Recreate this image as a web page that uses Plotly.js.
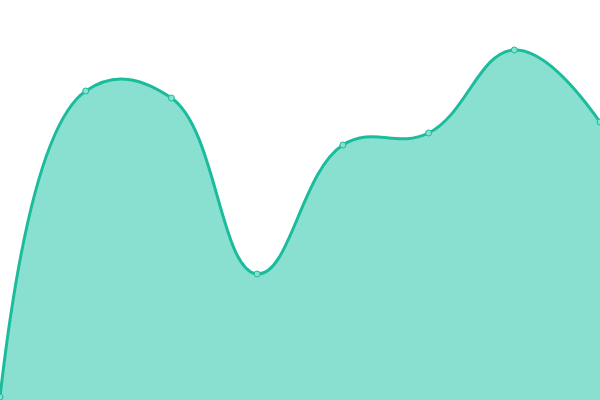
<!DOCTYPE html>
<html>
<head>
<meta charset="utf-8">
<script src="https://cdn.plot.ly/plotly-3.0.1.min.js"></script>
<style>
  html, body { margin: 0; padding: 0; background: #fff; }
  #chart { width: 600px; height: 400px; }
</style>
</head>
<body>
<div id="chart"></div>
<script>
    // Data
    const categories = [0, 1, 2, 3, 4, 5, 6, 7];
    const values = [3, 309, 302, 126, 255, 267, 350, 278];

    const lineColor = '#1abc9c';
    const fillColor = '#8ae0d0';

    const trace = {
        x: categories,
        y: values,
        type: 'scatter',
        mode: 'lines+markers',
        line: { color: lineColor, width: 3, shape: 'spline', smoothing: 1.2 },
        marker: { size: 6, color: fillColor, line: { color: lineColor, width: 1 } },
        fill: 'tozeroy',
        fillcolor: fillColor,
        cliponaxis: true,
        hoverinfo: 'skip'
    };

    const layout = {
        width: 600,
        height: 400,
        margin: { t: 0, r: 0, b: 0, l: 0 },
        showlegend: false,
        paper_bgcolor: '#fff',
        plot_bgcolor: '#fff',
        xaxis: { range: [0, 7], visible: false, fixedrange: true },
        yaxis: { range: [0, 400], visible: false, fixedrange: true }
    };

    Plotly.newPlot('chart', [trace], layout, { displayModeBar: false, staticPlot: true });
</script>
</body>
</html>
